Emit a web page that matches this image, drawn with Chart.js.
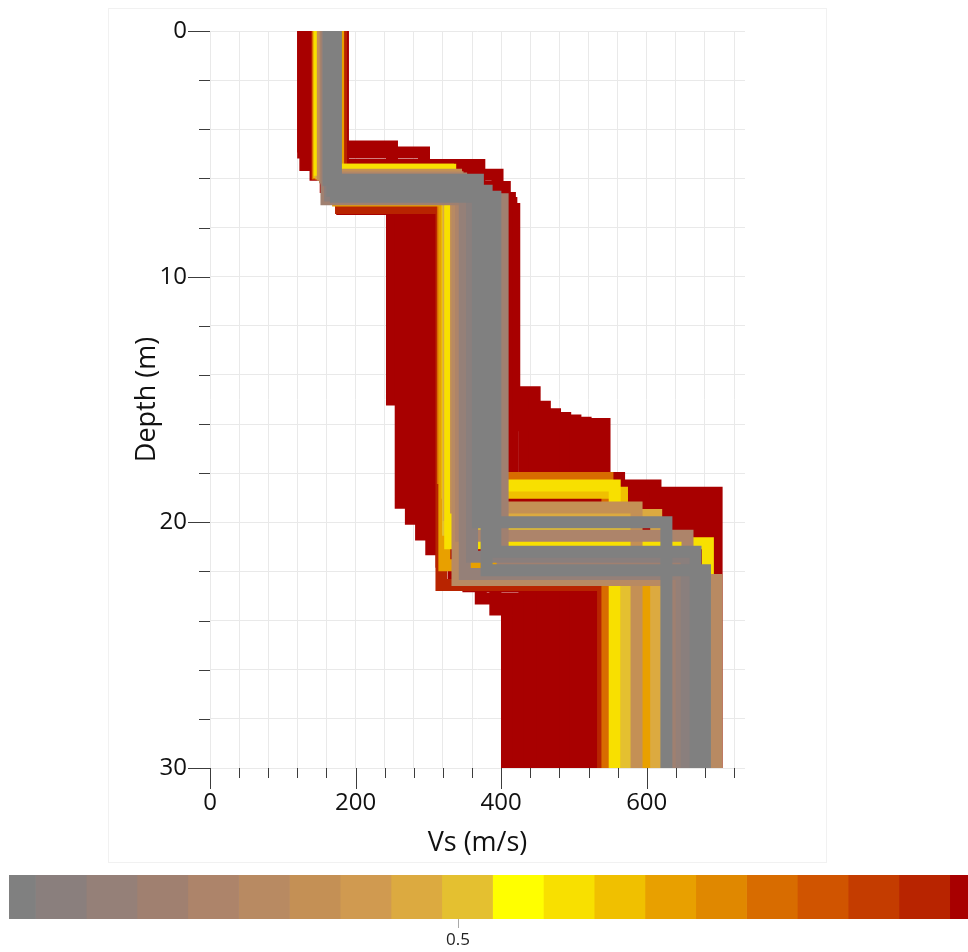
<!DOCTYPE html>
<html>
<head>
<meta charset="utf-8">
<script src="https://cdn.jsdelivr.net/npm/chart.js@4/dist/chart.umd.min.js"></script>
<style>
html,body{margin:0;padding:0;background:#ffffff;}
#frame{position:absolute;left:108px;top:8px;width:719px;height:855px;border:1px solid #f1f1f1;box-sizing:border-box;}
#main{position:absolute;left:0;top:0;}
#cb{position:absolute;left:0;top:875px;}
</style>
</head>
<body>
<div id="frame"></div>
<canvas id="main" width="968" height="870"></canvas>
<canvas id="cb" width="968" height="77"></canvas>
<script>
// ---- Ensemble of Vs profiles (listed worst misfit first, best last) ----
const modelColors = [
  '#a80000','#a80000','#a80000','#a80000','#a80000','#a80000','#a80000','#a80000','#a80000',
  '#a80000','#a80000','#a80000','#a80000','#a80000','#a80000','#a80000','#a80000','#a80000',
  '#a80000','#a80000','#a80000','#a80000','#a80000','#a80000','#a80000','#a80000','#a80000',
  '#b82400','#d86c00','#e8a000','#f0c000','#f8e000','#e4c030','#dcaa40','#f8e000',
  '#c49055','#b88a62','#ad846a','#a08070','#958078','#8a7f7d','#808080','#808080','#808080'
];
const layer1Vs = [
  128, 128, 131, 145, 159, 173, 182, 176, 177,
  178, 179, 180, 180, 181, 181, 182, 176, 177,
  178, 179, 180, 180, 181, 181, 182, 182, 182,
  180, 148, 176, 150, 151, 152, 153, 151,
  155, 158, 160, 160, 162, 165, 163, 173, 168
];
const interface1Depth = [
  4.7, 4.95, 5.45, 5.85, 6.35, 6.8, 7.25, 6.6, 6.65,
  6.7, 6.75, 6.8, 6.85, 6.9, 6.95, 7.0, 6.5, 6.55,
  6.6, 6.65, 6.9, 6.95, 6.95, 7.0, 7.25, 7.05, 7.1,
  7.2, 5.8, 6.9, 5.75, 5.65, 5.7, 5.8, 5.65,
  5.85, 5.95, 6.0, 6.85, 6.1, 6.7, 6.05, 6.75, 6.5
];
const layer2Vs = [
  250, 294, 370, 395, 405, 412, 418, 262, 276,
  290, 304, 318, 335, 355, 372, 392, 398, 400,
  402, 396, 406, 408, 410, 414, 416, 408, 400,
  318, 320, 322, 326, 327, 327, 328, 330,
  338, 340, 345, 402, 350, 360, 368, 392, 380
];
const interface2Depth = [
  15.0, 18.8, 18.5, 18.2, 16.0, 15.3, 14.7, 19.2, 19.85,
  20.5, 21.1, 21.6, 22.1, 22.6, 23.1, 23.55, 15.6, 15.75,
  15.85, 15.95, 19.25, 19.7, 20.15, 20.6, 21.05, 21.5, 16.05,
  22.55, 18.2, 21.75, 18.8, 18.5, 20.3, 19.7, 20.85,
  19.4, 22.35, 20.55, 21.5, 22.1, 21.4, 20.0, 21.2, 21.95
];
const halfspaceVs = [
  432, 696, 612, 562, 542, 460, 446, 500, 478,
  440, 488, 528, 515, 460, 422, 408, 474, 488,
  502, 516, 692, 692, 692, 692, 692, 692, 529,
  540, 546, 600, 566, 556, 572, 613, 684,
  586, 696, 656, 640, 648, 655, 627, 667, 680
];
const maxDepth = 30;

// ---- Axes ----
const xTickLabels = [0, 200, 400, 600];
const yTickLabels = [0, 10, 20, 30];

// ---- Colour scale ----
const cbEdges = [0.279, 0.292, 0.317, 0.342, 0.367, 0.392, 0.417, 0.442, 0.467, 0.492, 0.517,
                 0.542, 0.567, 0.592, 0.617, 0.642, 0.667, 0.692, 0.717, 0.742, 0.751];
const cbColors = ['#808080','#8a7f7d','#958078','#a08070','#ad846a','#b88a62','#c49055','#d09a50',
                  '#dcaa40','#e4c030','#ffff00','#f8e000','#f0c000','#e8a000','#e08800','#d86c00',
                  '#d05400','#c43c00','#b82400','#a80000'];
const cbTicks = [0.5];

Chart.defaults.font.family = "'Open Sans', 'DejaVu Sans', sans-serif";
Chart.defaults.color = '#111111';

const nModels = modelColors.length;
const datasets = modelColors.map((c, i) => ({
  data: [
    {x: layer1Vs[i], y: 0},
    {x: layer1Vs[i], y: interface1Depth[i]},
    {x: layer2Vs[i], y: interface1Depth[i]},
    {x: layer2Vs[i], y: interface2Depth[i]},
    {x: halfspaceVs[i], y: interface2Depth[i]},
    {x: halfspaceVs[i], y: maxDepth}
  ],
  order: nModels - i,
  borderColor: c,
  backgroundColor: c,
  borderWidth: 12,
  showLine: true,
  fill: false,
  tension: 0,
  pointRadius: 0,
  pointHoverRadius: 0,
  borderJoinStyle: 'miter',
  borderCapStyle: 'butt'
}));

const tickMarks = {
  id: 'tickMarks',
  afterDraw(chart) {
    const {ctx, chartArea} = chart;
    const sx = chart.scales.x, sy = chart.scales.y;
    ctx.save();
    ctx.strokeStyle = '#3c3c3c';
    ctx.lineWidth = 1;
    sx.ticks.forEach(t => {
      const px = Math.round(sx.getPixelForValue(t.value)) + 0.5;
      const len = xTickLabels.includes(t.value) ? 21 : 10;
      ctx.beginPath();
      ctx.moveTo(px, chartArea.bottom);
      ctx.lineTo(px, chartArea.bottom + len);
      ctx.stroke();
    });
    sy.ticks.forEach(t => {
      const py = Math.round(sy.getPixelForValue(t.value)) + 0.5;
      const len = yTickLabels.includes(t.value) ? 22 : 11;
      ctx.beginPath();
      ctx.moveTo(chartArea.left - len, py);
      ctx.lineTo(chartArea.left, py);
      ctx.stroke();
    });
    ctx.restore();
  }
};

new Chart(document.getElementById('main'), {
  type: 'scatter',
  data: { datasets },
  options: {
    responsive: false,
    animation: false,
    devicePixelRatio: 1,
    layout: { padding: { left: 131, top: 31, right: 223, bottom: 10 } },
    plugins: { legend: { display: false }, tooltip: { enabled: false } },
    scales: {
      x: {
        type: 'linear', min: 0, max: 735,
        afterFit: s => { s.height = 92; s.paddingLeft = 0; s.paddingRight = 0; },
        grid: { color: '#e9e9e9', lineWidth: 1, drawTicks: false },
        border: { display: false },
        ticks: {
          stepSize: 40, includeBounds: false, padding: 21, maxRotation: 0, autoSkip: false,
          font: { size: 24 }, color: '#111111',
          callback: v => xTickLabels.includes(v) ? String(v) : ''
        },
        title: { display: true, text: 'Vs (m/s)', font: { size: 27 }, color: '#111111', padding: { top: 0, bottom: 0 } }
      },
      y: {
        type: 'linear', reverse: true, min: 0, max: maxDepth,
        afterFit: s => { s.width = 79; s.paddingTop = 0; s.paddingBottom = 0; },
        grid: { color: '#e9e9e9', lineWidth: 1, drawTicks: false },
        border: { display: false },
        ticks: {
          stepSize: 2, padding: 23, autoSkip: false,
          font: { size: 24 }, color: '#111111',
          callback: v => yTickLabels.includes(v) ? String(v) : ''
        },
        title: { display: true, text: 'Depth (m)', font: { size: 27 }, color: '#111111', padding: { top: 0, bottom: 0 } }
      }
    }
  },
  plugins: [tickMarks]
});

new Chart(document.getElementById('cb'), {
  type: 'bar',
  data: {
    labels: [''],
    datasets: cbColors.map((c, i) => ({
      data: [[cbEdges[i], cbEdges[i + 1]]],
      backgroundColor: c,
      borderWidth: 0,
      barPercentage: 1,
      categoryPercentage: 1,
      grouped: false
    }))
  },
  options: {
    indexAxis: 'y',
    responsive: false,
    animation: false,
    devicePixelRatio: 1,
    layout: { padding: { left: 9, right: 0, top: 0, bottom: 0 } },
    plugins: { legend: { display: false }, tooltip: { enabled: false } },
    scales: {
      y: { display: false },
      x: {
        type: 'linear', min: cbEdges[0], max: cbEdges[cbEdges.length - 1],
        afterBuildTicks: s => { s.ticks = cbTicks.map(v => ({ value: v })); },
        afterFit: s => { s.height = 33; },
        grid: { drawOnChartArea: false, drawTicks: true, tickLength: 9, tickColor: '#aaaaaa' },
        border: { display: false },
        ticks: { padding: 2, color: '#222222', font: { size: 17 }, callback: v => v.toFixed(1) }
      }
    }
  }
});
</script>
</body>
</html>
